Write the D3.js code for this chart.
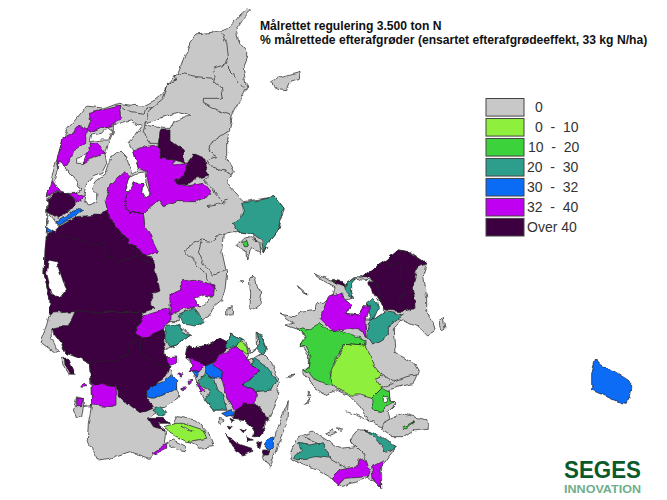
<!DOCTYPE html>
<html>
<head>
<meta charset="utf-8">
<script src="https://cdn.jsdelivr.net/npm/d3@7"></script>
<style>
body { margin: 0; background: white; }
text { font-family: "Liberation Sans", Arial, sans-serif; white-space: pre; }
</style>
</head>
<body>
<div id="map"></div>
<script>
//classes of the legend
var classLabels = ["0", "0  -  10", "10  -  20", "20  -  30", "30  -  32", "32  -  40", "Over 40"];
var classColors = ["#c8c8c8", "#8ef03c", "#3cd23c", "#2e9e8c", "#0a6cf5", "#c000f0", "#3c0040"];
var labelStart = [535, 535, 528, 527, 527, 527, 527];

var titleLines = ["Målrettet regulering 3.500 ton N", "% målrettede efterafgrøder (ensartet efterafgrødeeffekt, 33 kg N/ha)"];

//map rings in map units
var grayAreas = [
	[[665,30],[650,27],[630,45],[605,75],[585,90],[545,97],[500,102],[480,130],[465,165],[445,215],[420,245],[400,280],[375,300],[340,318],[300,315],[265,310],[225,325],[170,318],[140,355],[110,390],[95,430],[80,480],[65,530],[50,600],[50,680],[48,720],[45,760],[42,820],[60,900],[60,940],[50,975],[30,1025],[75,1060],[85,1055],[65,1015],[62,990],[90,1025],[110,1060],[150,1075],[178,1090],[182,1145],[185,1215],[175,1270],[172,1320],[205,1380],[240,1375],[300,1355],[360,1375],[405,1335],[410,1295],[355,1255],[375,1240],[410,1215],[450,1190],[440,1165],[430,1125],[415,1105],[405,1070],[400,1050],[440,1035],[485,1002],[445,980],[402,975],[405,965],[445,965],[445,950],[470,970],[510,960],[535,950],[550,920],[575,900],[585,870],[590,820],[578,765],[575,755],[580,700],[610,695],[625,695],[665,700],[700,758],[720,720],[745,690],[762,625],[735,590],[640,605],[625,590],[590,550],[610,515],[590,470],[590,420],[600,385],[605,350],[625,310],[650,265],[640,205],[650,180],[650,150],[625,120],[618,85],[640,55]],
	[[620,735],[640,715],[665,710],[690,730],[692,760],[665,745],[650,780],[648,755],[625,745]],
	[[725,245],[745,235],[780,225],[810,217],[808,235],[780,245],[770,272],[750,270],[735,260]],
	[[470,1045],[475,1035],[490,1045],[530,1035],[570,1015],[590,1025],[605,1002],[625,1015],[645,1022],[660,1060],[680,1045],[678,1000],[695,1005],[710,1040],[700,1060],[725,1085],[740,1130],[748,1145],[740,1200],[720,1245],[700,1290],[680,1305],[665,1280],[640,1258],[610,1255],[590,1230],[550,1230],[525,1200],[510,1175],[495,1130],[505,1115],[475,1115],[490,1095],[465,1075]],
	[[95,1075],[115,1075],[135,1125],[115,1125],[100,1095]],
	[[130,1230],[140,1190],[160,1195],[160,1220],[155,1250],[140,1255]],
	[[440,1250],[500,1260],[535,1300],[550,1340],[510,1345],[470,1320],[430,1270]],
	[[430,1320],[470,1340],[465,1355],[440,1350],[410,1330]],
	[[775,1205],[760,1240],[730,1320],[700,1370],[720,1405],[745,1330],[770,1270]],
	[[658,840],[670,825],[680,865],[695,875],[690,915],[670,930],[660,920],[662,880]],
	[[590,925],[610,920],[605,945],[590,945]],
	[[628,845],[640,845],[635,852]],
	[[565,1255],[580,1258],[575,1270],[565,1265]],
	[[750,942],[790,950],[820,933],[855,928],[860,910],[880,910],[910,885],[915,860],[885,845],[850,820],[900,840],[910,838],[945,855],[975,830],[995,830],[1070,780],[1105,750],[1140,755],[1190,790],[1180,820],[1190,890],[1190,940],[1210,965],[1215,990],[1190,1005],[1170,985],[1150,975],[1110,960],[1090,990],[1095,1060],[1150,1090],[1165,1115],[1150,1150],[1110,1160],[1075,1170],[1080,1200],[1095,1215],[1075,1235],[1080,1260],[1065,1285],[1020,1265],[990,1220],[960,1190],[920,1170],[885,1185],[850,1160],[820,1115],[835,1105],[835,1070],[810,1035],[825,1020],[810,990],[765,975],[790,970]],
	[[805,860],[835,885],[815,875]],
	[[1230,960],[1240,955],[1245,985],[1235,990]],
	[[1095,1250],[1115,1240],[1190,1260],[1195,1285],[1150,1290],[1120,1310],[1085,1310],[1055,1290],[1060,1270]],
	[[780,1360],[805,1310],[850,1295],[890,1320],[930,1345],[975,1340],[960,1320],[985,1290],[1010,1290],[1050,1320],[1100,1340],[1080,1365],[1055,1400],[1055,1465],[1030,1440],[1010,1435],[935,1460],[905,1435],[860,1410],[810,1390],[785,1380]],
	[[885,1300],[905,1290],[920,1300],[900,1305]],
	[[920,1280],[940,1285],[930,1295]],
	[[780,1125],[795,1122],[785,1130]],
	[[825,1210],[840,1195],[835,1205]],
	[[835,1170],[845,1190],[835,1190]],
	[[770,1130],[785,1125],[778,1133]]
];

//water under the coloured areas
var whiteAreas = [
	[[250,375],[300,360],[325,375],[335,380],[310,415],[295,430],[310,450],[325,505],[310,520],[295,490],[290,470],[270,450],[245,470],[235,490],[225,520],[195,545],[185,565],[200,580],[200,605],[175,615],[160,590],[170,555],[190,530],[215,520],[230,490],[225,465],[235,430],[250,395]],
	[[232,380],[248,392],[235,420],[210,420],[180,425],[185,405],[215,400]],
	[[140,475],[175,462],[185,465],[160,490],[140,490]],
	[[345,370],[420,345],[450,335],[480,345],[470,350],[430,365],[420,385],[400,385],[345,375]],
	[[942,860],[980,835],[1020,840],[1045,850],[1045,905],[1060,910],[1060,940],[1030,960],[1005,960],[1000,920],[985,945],[950,940],[965,915],[945,900],[970,895],[960,870]]
];

//water on top of the coloured areas
var fjordAreas = [
	[[88,480],[105,505],[120,515],[155,570],[135,580],[110,580],[85,570],[70,545],[85,510]],
	[[55,635],[60,645],[80,670],[90,680],[75,695],[50,680]],
	[[345,515],[350,560],[360,580],[345,590],[335,575],[340,550],[310,548],[295,575],[283,570],[300,530],[320,520]],
	[[55,780],[80,785],[100,845],[110,865],[85,895],[65,880],[50,820]],
	[[495,895],[520,885],[548,890],[520,915],[510,920]],
	[[655,1065],[680,1045],[695,1060],[670,1075],[650,1080]],
	[[455,1275],[490,1295],[470,1290]],
	[[1060,1190],[1075,1190],[1070,1208],[1060,1205]]
];

var limeAreas = [
	[[612,1040],[630,1025],[650,1040],[655,1065],[640,1055]],
	[[405,1280],[435,1270],[460,1270],[520,1290],[530,1315],[470,1325],[420,1300]],
	[[945,1030],[1005,1035],[1020,1065],[1030,1095],[1050,1120],[1040,1140],[1055,1165],[1025,1195],[990,1185],[960,1185],[920,1165],[900,1140],[905,1115],[925,1070]]
];

var greenAreas = [
	[[635,725],[650,720],[655,740],[640,740]],
	[[690,1010],[700,1030],[690,1040]],
	[[800,982],[830,990],[870,970],[895,990],[935,995],[995,1015],[1005,1020],[1005,1035],[945,1030],[920,1070],[900,1120],[910,1160],[885,1150],[850,1135],[835,1115],[820,1110],[835,1105],[840,1070],[825,1040],[810,1040],[820,1020],[825,1010]],
	[[1055,1165],[1078,1172],[1080,1205],[1090,1210],[1065,1220],[1060,1235],[1030,1230],[1025,1195]],
	[[1120,1285],[1155,1265],[1125,1290]]
];

var tealAreas = [
	[[640,630],[635,650],[610,670],[625,695],[665,700],[695,720],[700,758],[720,720],[745,690],[755,630],[762,625],[735,590],[690,600],[635,610]],
	[[445,945],[490,923],[525,965],[490,978],[455,970]],
	[[405,1000],[410,975],[445,975],[460,1000],[485,1002],[440,1035],[420,1040],[405,1015]],
	[[365,1230],[395,1220],[410,1240],[390,1250]],
	[[590,1025],[605,1002],[625,1015],[640,1020],[615,1040],[590,1045]],
	[[672,1075],[710,1100],[740,1140],[725,1170],[680,1175],[635,1155],[660,1130],[692,1115],[665,1095]],
	[[660,1070],[700,1060],[712,1050],[695,1010],[680,1000],[690,1030],[670,1050]],
	[[505,1140],[530,1120],[555,1140],[560,1160],[580,1190],[590,1230],[550,1230],[525,1200],[540,1170],[510,1155]],
	[[1015,970],[1065,935],[1120,945],[1075,980],[1075,1005],[1055,1020],[1025,1035],[1010,1010]],
	[[1005,915],[1030,895],[1040,905],[1045,925],[1030,960],[1020,965],[1020,930]],
	[[945,865],[950,850],[980,830],[965,850],[965,880],[970,895],[955,885]],
	[[790,1375],[815,1350],[805,1330],[840,1335],[880,1325],[900,1375],[860,1370],[800,1380]],
	[[1005,1290],[1055,1310],[1098,1340],[1070,1360],[1040,1320]]
];

var blueAreas = [
	[[140,627],[158,632],[130,650],[90,675],[78,665],[110,650],[125,632]],
	[[50,685],[65,680],[60,695],[50,695]],
	[[350,1175],[370,1155],[400,1145],[425,1125],[440,1140],[440,1165],[400,1185],[370,1195],[350,1190]],
	[[525,1100],[548,1092],[578,1115],[575,1135],[550,1133],[530,1120]],
	[[575,1240],[605,1232],[610,1245],[590,1250]],
	[[490,1117],[510,1115],[500,1130]],
	[[710,1320],[730,1310],[730,1340],[720,1350],[705,1340]],
	[[1697,1077],[1685,1120],[1685,1170],[1730,1190],[1770,1208],[1792,1210],[1802,1170],[1802,1145],[1755,1115],[1715,1095]]
];

var purpleAreas = [
	[[178,340],[268,318],[272,350],[245,378],[225,380],[185,398],[172,390],[182,365]],
	[[145,378],[172,390],[170,425],[135,450],[115,490],[88,510],[80,480],[100,410],[125,400]],
	[[180,430],[205,430],[225,460],[185,475],[160,490],[175,450]],
	[[65,540],[70,550],[110,585],[135,580],[162,590],[145,605],[115,580],[75,575],[52,590],[55,570]],
	[[225,600],[240,555],[285,515],[300,530],[283,570],[295,575],[280,615],[300,640],[340,640],[345,680],[365,715],[385,755],[345,770],[335,750],[300,730],[250,670],[232,630]],
	[[315,455],[345,440],[385,435],[395,475],[435,480],[435,495],[470,490],[465,525],[437,540],[440,550],[470,558],[520,550],[545,580],[500,605],[440,605],[400,620],[385,600],[340,640],[300,640],[280,615],[295,575],[310,548],[340,550],[335,575],[345,590],[360,580],[350,515],[325,505],[310,455]],
	[[315,1000],[340,948],[415,925],[420,945],[420,965],[405,975],[400,988],[340,1015]],
	[[420,885],[450,870],[460,842],[490,838],[555,855],[550,888],[515,895],[495,895],[520,910],[510,920],[460,925],[420,945]],
	[[150,1155],[165,1150],[170,1160],[150,1162]],
	[[185,1150],[258,1160],[258,1215],[245,1220],[185,1215]],
	[[140,1195],[160,1195],[155,1220],[140,1220]],
	[[405,1070],[440,1068],[440,1090],[405,1100]],
	[[470,1070],[510,1080],[525,1100],[505,1115],[475,1115],[490,1095]],
	[[500,1145],[525,1175],[510,1175]],
	[[447,1120],[455,1118],[455,1128],[447,1127]],
	[[475,1140],[485,1138],[483,1150],[475,1150]],
	[[455,1165],[470,1163],[465,1172]],
	[[365,1360],[410,1330],[410,1345],[380,1360]],
	[[555,1085],[580,1060],[605,1045],[620,1040],[640,1060],[665,1095],[692,1115],[655,1140],[635,1155],[680,1175],[675,1210],[640,1230],[615,1235],[590,1190],[575,1135],[578,1115],[548,1092]],
	[[895,890],[935,882],[945,900],[965,915],[950,940],[985,945],[1000,920],[1025,920],[1005,960],[1008,1010],[990,990],[960,985],[910,992],[885,970],[870,955]],
	[[905,1435],[930,1410],[980,1400],[985,1370],[1010,1385],[1020,1415],[1015,1430],[945,1435],[925,1455]],
	[[1025,1400],[1060,1382],[1050,1410],[1055,1465],[1030,1440]]
];

var darkAreas = [
	[[52,600],[75,578],[115,578],[140,605],[120,630],[85,655],[60,640],[52,635]],
	[[390,390],[420,390],[420,420],[460,450],[462,490],[435,480],[395,475],[385,435]],
	[[470,490],[490,460],[525,475],[530,510],[540,525],[500,535],[470,555],[440,550],[437,540],[465,525]],
	[[88,680],[140,650],[200,645],[232,630],[250,670],[300,730],[335,750],[345,770],[370,775],[375,810],[390,870],[365,880],[365,915],[375,925],[335,938],[135,935],[60,940],[60,900],[42,820],[45,760],[48,720],[52,700]],
	[[135,935],[335,938],[340,950],[315,1000],[340,1015],[400,988],[405,1030],[400,1060],[420,1100],[415,1120],[380,1150],[350,1175],[350,1190],[370,1220],[330,1238],[265,1190],[258,1160],[185,1150],[178,1090],[150,1075],[110,1060],[90,1025],[75,1005],[65,985],[85,980],[115,980]],
	[[105,1075],[115,1075],[135,1125],[118,1125],[110,1100]],
	[[355,1255],[395,1255],[420,1270],[380,1270],[405,1290],[370,1280]],
	[[470,1050],[475,1035],[490,1045],[530,1035],[570,1015],[590,1025],[590,1045],[555,1085],[525,1100],[490,1075],[465,1075]],
	[[610,1235],[650,1210],[680,1210],[715,1255],[700,1280],[680,1305],[665,1280],[640,1258],[610,1255]],
	[[695,1350],[720,1350],[715,1365],[700,1365]],
	[[585,1300],[620,1330],[665,1345],[665,1355],[635,1365],[610,1340]],
	[[675,1290],[705,1285],[690,1310],[670,1310]],
	[[600,1255],[615,1262],[605,1268]],
	[[630,1285],[650,1290],[640,1295]],
	[[650,1310],[670,1320],[655,1322]],
	[[680,1330],[695,1325],[690,1345]],
	[[595,1275],[610,1280],[600,1285]],
	[[1010,845],[1040,845],[1050,910],[1030,880]],
	[[995,830],[1070,780],[1105,750],[1135,755],[1190,790],[1160,805],[1150,855],[1155,925],[1115,935],[1065,930],[1050,910],[1040,850],[1010,830]],
	[[905,840],[940,845],[945,860],[920,850]]
];

//municipal borders inside the coloured and gray areas
var borderLines = [
	[[575,100],[590,130],[595,170],[585,195],[550,205],[555,230],[550,245],[575,265],[580,295],[520,295],[520,310],[560,330],[600,345],[605,370]],
	[[440,240],[435,225],[455,220],[500,230],[550,235]],
	[[440,240],[415,250],[400,295],[365,325],[355,345],[345,370]],
	[[590,200],[610,220],[640,265]],
	[[265,318],[300,335],[345,340],[355,320],[365,320]],
	[[345,375],[340,395],[365,430],[385,430]],
	[[600,390],[540,430],[535,455],[560,470],[530,480],[540,500],[585,510],[605,520]],
	[[540,530],[520,540],[550,570],[580,610]],
	[[530,620],[560,615],[590,600]],
	[[50,710],[100,708],[150,720],[185,735],[225,730],[228,765],[270,785],[320,770],[370,795]],
	[[335,1015],[300,1030],[295,1060],[250,1085],[180,1085]],
	[[335,1015],[335,1065],[380,1090],[420,1100]],
	[[460,755],[490,730],[515,720],[505,755],[520,790],[550,825],[590,810]],
	[[465,755],[500,790],[545,850],[560,870]],
	[[515,720],[545,725],[575,700]],
	[[160,1220],[185,1217]],
	[[1050,1120],[1075,1135],[1090,1145],[1130,1130],[1160,1125]],
	[[1055,1165],[1090,1150]],
	[[1075,790],[1085,795],[1115,785],[1115,840],[1125,880],[1105,900]],
	[[950,1235],[980,1245],[1020,1262]],
	[[820,1310],[870,1330]],
	[[900,1375],[950,1405]],
	[[960,1320],[1000,1360],[1010,1385]]
];

//svg dimensions
var svg = d3.select("#map").append("svg")
	.attr("width", 667)
	.attr("height", 500);

//rough edge for the coast and the borders, the rings are only coarse
var rough = svg.append("defs").append("filter")
	.attr("id", "rough")
	.attr("filterUnits", "userSpaceOnUse")
	.attr("x", 0).attr("y", 0)
	.attr("width", 667).attr("height", 500);
rough.append("feTurbulence")
	.attr("type", "fractalNoise")
	.attr("baseFrequency", 0.13)
	.attr("numOctaves", 2)
	.attr("seed", 4)
	.attr("result", "noise");
rough.append("feDisplacementMap")
	.attr("in", "SourceGraphic")
	.attr("in2", "noise")
	.attr("scale", 5)
	.attr("xChannelSelector", "R")
	.attr("yChannelSelector", "G");

var mapLayer = svg.append("g").attr("filter", "url(#rough)");

var x = d3.scaleLinear().domain([0, 1911]).range([30, 667]);
var y = d3.scaleLinear().domain([0, 1500]).range([0, 500]);

var ring = d3.line()
	.x(function(p){ return x(p[0]); })
	.y(function(p){ return y(p[1]); });

//draw a list of rings with one fill
function drawAreas(rings, fill){
	mapLayer.append("g")
		.selectAll("path")
		.data(rings)
		.enter()
		.append("path")
		.attr("d", function(r){ return ring(r) + "Z"; })
		.attr("fill", fill)
		.attr("stroke", "#222")
		.attr("stroke-width", 0.7)
		.attr("stroke-linejoin", "round");
}

drawAreas(grayAreas, classColors[0]);
drawAreas(whiteAreas, "white");
drawAreas(limeAreas, classColors[1]);
drawAreas(greenAreas, classColors[2]);
drawAreas(tealAreas, classColors[3]);
drawAreas(blueAreas, classColors[4]);
drawAreas(purpleAreas, classColors[5]);
drawAreas(darkAreas, classColors[6]);
drawAreas(fjordAreas, "white");

mapLayer.append("g")
	.selectAll("path")
	.data(borderLines)
	.enter()
	.append("path")
	.attr("d", ring)
	.attr("fill", "none")
	.attr("stroke", "#222")
	.attr("stroke-width", 0.7);

//title
svg.selectAll("text.title")
	.data(titleLines)
	.enter()
	.append("text")
	.attr("class", "title")
	.attr("x", 260)
	.attr("y", function(d, i){ return 30 + i*14; })
	.attr("font-size", 12.15)
	.attr("font-weight", "bold")
	.attr("fill", "#111")
	.text(function(d){ return d; });

//legend
var legendY = d3.scaleBand()
	.domain(classLabels)
	.range([98.5, 236])
	.paddingInner(0.12);

var legend = svg.selectAll("g.legend")
	.data(classLabels)
	.enter()
	.append("g")
	.attr("class", "legend");

legend.append("rect")
	.attr("x", 486)
	.attr("y", function(d){ return legendY(d); })
	.attr("width", 38)
	.attr("height", legendY.bandwidth())
	.attr("fill", function(d, i){ return classColors[i]; })
	.attr("stroke", "#444")
	.attr("stroke-width", 1);

legend.append("text")
	.attr("x", function(d, i){ return labelStart[i]; })
	.attr("y", function(d){ return legendY(d) + legendY.bandwidth()/2 + 5; })
	.attr("font-size", 14)
	.attr("fill", "#333")
	.text(function(d){ return d; });

//logo
svg.append("text")
	.attr("x", 564)
	.attr("y", 478)
	.attr("font-size", 24)
	.attr("font-weight", "bold")
	.attr("fill", "#0a5a2b")
	.attr("textLength", 77)
	.attr("lengthAdjust", "spacingAndGlyphs")
	.text("SEGES");

svg.append("text")
	.attr("x", 564)
	.attr("y", 493)
	.attr("font-size", 11)
	.attr("font-weight", "bold")
	.attr("fill", "#6fae8c")
	.attr("textLength", 77)
	.attr("lengthAdjust", "spacingAndGlyphs")
	.text("INNOVATION");
</script>
</body>
</html>
